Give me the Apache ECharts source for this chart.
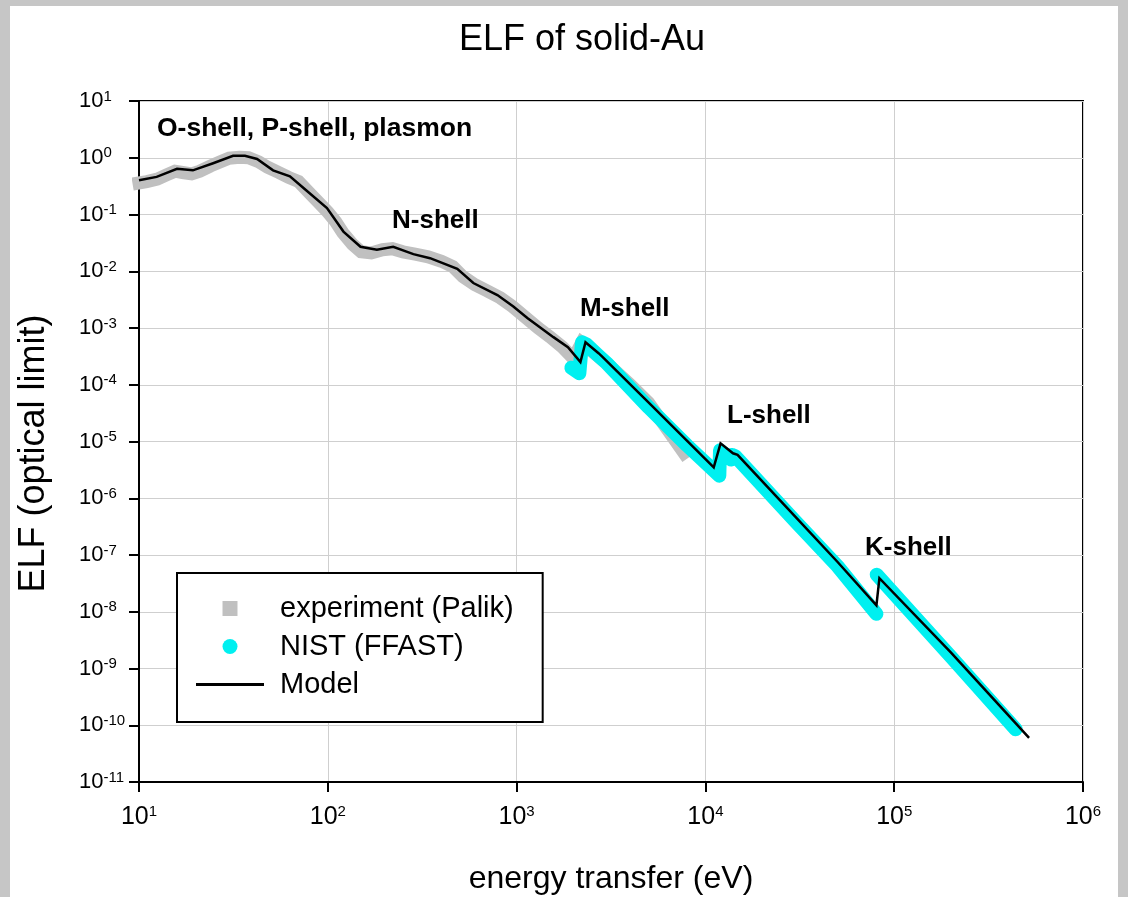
<!DOCTYPE html>
<html><head><meta charset="utf-8">
<script src="https://cdn.jsdelivr.net/npm/echarts@6/dist/echarts.min.js"></script>
<style>
html,body{margin:0;padding:0;background:#c6c6c6;width:1128px;height:897px;overflow:hidden;}
#paper{position:absolute;left:10px;top:6px;width:1108px;height:891px;background:#fff;}
#chart{position:absolute;left:0;top:0;width:1128px;height:897px;}
</style></head><body>
<div id="paper"></div>
<div id="chart"></div>
<script>
// ---- Data ----
const modelE   = [10, 12.4, 15.9, 19.3, 24.7, 31.5, 36.4, 42.2, 51.3, 63, 77.6, 99, 121, 149, 182, 222, 284, 348, 485, 590, 791, 961, 1140, 1567, 1870, 2178, 2317, 2717, 2850, 5150, 11070, 12030, 14000, 14800, 30000, 50000, 80500, 83500, 200000, 518000];
const modelELF = [0.40, 0.46, 0.64, 0.60, 0.80, 1.08, 1.08, 0.95, 0.60, 0.47, 0.26, 0.13, 0.05, 0.027, 0.024, 0.027, 0.020, 0.017, 0.011, 0.0062, 0.0038, 0.0024, 0.0015, 6.9e-4, 4.6e-4, 2.5e-4, 5.6e-4, 3.6e-4, 3.1e-4, 4.4e-5, 3.5e-6, 9.3e-6, 6.2e-6, 5.8e-6, 4.7e-7, 7.6e-8, 1.3e-8, 3.9e-8, 1.9e-9, 6.0e-11];

const palikE   = [10, 11, 12.5, 14, 15.5, 17, 19, 21, 24, 27, 30, 34, 38, 43, 48, 55, 62, 70, 80, 90, 100, 110, 120, 135, 150, 170, 195, 220, 250, 290, 340, 400, 460, 520, 600, 700, 820, 950, 1100, 1300, 1500, 1750, 2000, 2210, 3000, 4000, 5000, 6500, 7700];
const palikELF = [0.36, 0.38, 0.42, 0.50, 0.58, 0.55, 0.52, 0.58, 0.72, 0.85, 0.98, 1.02, 1.0, 0.85, 0.68, 0.55, 0.45, 0.38, 0.24, 0.16, 0.11, 0.075, 0.048, 0.030, 0.022, 0.021, 0.024, 0.025, 0.022, 0.020, 0.018, 0.015, 0.012, 0.0080, 0.0058, 0.0045, 0.0034, 0.0024, 0.0016, 0.0010, 7.0e-4, 4.6e-4, 2.9e-4, 5.5e-4, 2.4e-4, 1.0e-4, 4.8e-5, 1.4e-5, 6.3e-6];

const nistE   = [1950, 2150, 2220, 2350, 2700, 3000, 5000, 8000, 11850, 11950, 13700, 13800, 14400, 30000, 50000, 80500, null, 80800, 200000, 440000];
const nistELF = [2.0e-4, 1.6e-4, 5.6e-4, 5.1e-4, 3.3e-4, 2.4e-4, 4.0e-5, 8.5e-6, 2.5e-6, 7.0e-6, 4.8e-6, 5.8e-6, 5.5e-6, 3.9e-7, 6.4e-8, 9.2e-9, null, 4.5e-8, 1.6e-9, 8.5e-11];

// axis ranges as powers of ten (decade exponents)
const xDecades = [1, 6];
const yDecades = [-11, 1];

const seriesNames = ['experiment (Palik)', 'NIST (FFAST)', 'Model'];
const shellLabels = ['O-shell, P-shell, plasmon', 'N-shell', 'M-shell', 'L-shell', 'K-shell'];
const titleText = 'ELF of solid-Au';
const xName = 'energy transfer (eV)';
const yName = 'ELF (optical limit)';

// ---- Build (log10 coordinates on value axes) ----
const FONT = '"Liberation Sans", Arial, Helvetica, sans-serif';
function pairs(xs, ys) {
  return xs.map((x, i) => (x === null ? [null, null] : [Math.log10(x), Math.log10(ys[i])]));
}
function powLabel(v) {
  return '{b|10}{s|' + Math.round(v) + '}';
}

const chart = echarts.init(document.getElementById('chart'), null, { renderer: 'canvas' });
const option = {
  animation: false,
  backgroundColor: 'transparent',
  textStyle: { fontFamily: FONT },
  title: {
    text: titleText, left: 454, top: 17,
    textStyle: { fontSize: 36, fontWeight: 'normal', color: '#000', fontFamily: FONT }
  },
  grid: {
    left: 139, right: 45, top: 101, bottom: 115,
    show: true, borderColor: '#000', borderWidth: 2,
    containLabel: false, outerBoundsMode: 'none'
  },
  legend: {
    orient: 'vertical', left: 177, top: 573,
    backgroundColor: '#fff', borderColor: '#000', borderWidth: 2,
    padding: [20, 29, 22, 19],
    itemWidth: 68, itemHeight: 15, itemGap: 7,
    textStyle: { fontSize: 29, color: '#000', fontFamily: FONT, lineHeight: 31, padding: [0, 0, 0, 11] },
    data: [
      { name: seriesNames[0], icon: 'path://M0,0L10,0L10,10L0,10Z', itemStyle: { color: '#c0c0c0', borderWidth: 0 } },
      { name: seriesNames[1], icon: 'circle', itemStyle: { color: '#00f0f0', borderWidth: 0 } },
      { name: seriesNames[2], icon: 'path://M0,0L68,0L68,3L0,3Z', itemStyle: { color: '#000', borderWidth: 0 } }
    ]
  },
  xAxis: {
    type: 'value', min: xDecades[0], max: xDecades[1], interval: 1,
    name: xName, nameLocation: 'middle', nameGap: 81,
    nameTextStyle: { fontSize: 32, color: '#000', fontFamily: FONT },
    axisLine: { show: true, onZero: false, lineStyle: { color: '#000', width: 2 } },
    axisTick: { show: true, length: 10, lineStyle: { color: '#000', width: 2 } },
    splitLine: { show: true, lineStyle: { color: '#cfcfcf', width: 1 } },
    axisLabel: {
      margin: 22, formatter: powLabel, color: '#000',
      rich: {
        b: { fontSize: 25, fontFamily: FONT, color: '#000', lineHeight: 27 },
        s: { fontSize: 15, fontFamily: FONT, color: '#000', verticalAlign: 'top', lineHeight: 16 }
      }
    }
  },
  yAxis: {
    type: 'value', min: yDecades[0], max: yDecades[1], interval: 1,
    name: yName, nameLocation: 'middle', nameGap: 87, nameRotate: 90,
    nameTextStyle: { fontSize: 36, color: '#000', fontFamily: FONT, padding: [0, 24, 0, 0] },
    axisLine: { show: true, onZero: false, lineStyle: { color: '#000', width: 2 } },
    axisTick: { show: true, length: 10, lineStyle: { color: '#000', width: 2 } },
    splitLine: { show: true, lineStyle: { color: '#cfcfcf', width: 1 } },
    axisLabel: {
      margin: 60, align: 'left', formatter: powLabel, color: '#000',
      rich: {
        b: { fontSize: 22, fontFamily: FONT, color: '#000', lineHeight: 24 },
        s: { fontSize: 15, fontFamily: FONT, color: '#000', verticalAlign: 'top', lineHeight: 16 }
      }
    }
  },
  graphic: [
    { type: 'text', left: 157, top: 115, z: 100, style: { text: shellLabels[0], font: 'bold 26.5px ' + FONT, fill: '#000' } },
    { type: 'text', left: 392, top: 208, z: 100, style: { text: shellLabels[1], font: 'bold 26px ' + FONT, fill: '#000' } },
    { type: 'text', left: 580, top: 296, z: 100, style: { text: shellLabels[2], font: 'bold 26px ' + FONT, fill: '#000' } },
    { type: 'text', left: 727, top: 403, z: 100, style: { text: shellLabels[3], font: 'bold 26px ' + FONT, fill: '#000' } },
    { type: 'text', left: 865, top: 535, z: 100, style: { text: shellLabels[4], font: 'bold 26px ' + FONT, fill: '#000' } }
  ],
  series: [
    {
      name: seriesNames[0], type: 'line', data: pairs(palikE, palikELF), z: 2,
      color: '#c0c0c0', showSymbol: false, symbol: 'none', clip: false,
      lineStyle: { color: '#c0c0c0', width: 13, cap: 'square', join: 'miter' }
    },
    {
      name: seriesNames[1], type: 'line', data: pairs(nistE, nistELF), z: 3,
      color: '#00f0f0', showSymbol: false, symbol: 'none', connectNulls: false,
      lineStyle: { color: '#00f0f0', width: 14, cap: 'round', join: 'round' }
    },
    {
      name: seriesNames[2], type: 'line', data: pairs(modelE, modelELF), z: 4,
      color: '#000', showSymbol: false, symbol: 'none',
      lineStyle: { color: '#000', width: 2.5, join: 'miter' }
    }
  ]
};
chart.setOption(option);
</script>
</body></html>
